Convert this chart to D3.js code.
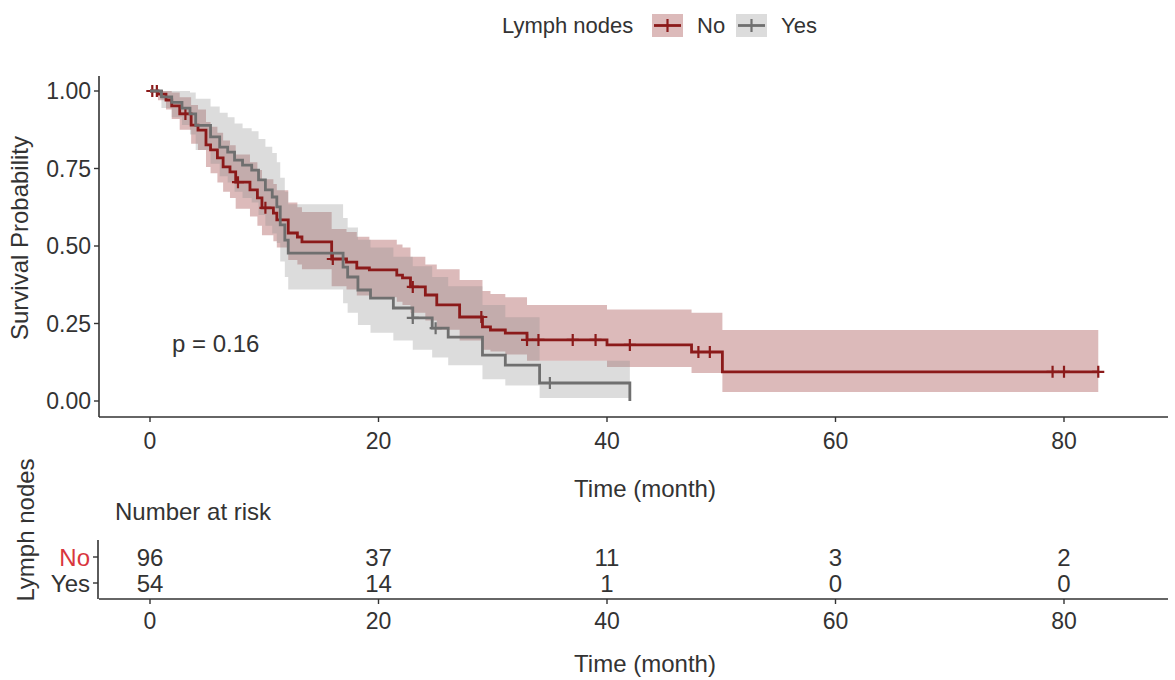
<!DOCTYPE html>
<html>
<head>
<meta charset="utf-8">
<script src="https://cdn.jsdelivr.net/npm/d3@7"></script>
<style>
  body { margin: 0; background: #fff; }
  text { font-family: "Liberation Sans", Arial, sans-serif; }
</style>
</head>
<body>
<svg id="chart" width="1175" height="680"></svg>
<script>
// ---- data ----
// Lymph nodes = No
let noTime  = [0, 0.7, 1.4, 1.9, 2.6, 3.6, 4.2, 4.9, 5.3, 5.9, 6.4, 7.0, 7.5, 8.75, 9.4, 9.8, 10.8, 11.1, 12.1, 12.9, 13.3, 15.9, 17.2, 18.1, 19.2, 21.6, 22.1, 22.8, 24.1, 25.1, 27.1, 29.1, 29.8, 31.1, 33.0, 40.0, 47.4, 50.1];
let noSurv  = [1, 0.99, 0.971, 0.952, 0.926, 0.89, 0.874, 0.826, 0.81, 0.784, 0.755, 0.739, 0.706, 0.681, 0.655, 0.623, 0.606, 0.584, 0.542, 0.529, 0.513, 0.458, 0.448, 0.429, 0.423, 0.406, 0.397, 0.368, 0.342, 0.31, 0.271, 0.239, 0.229, 0.219, 0.197, 0.181, 0.158, 0.094];
let noUpper = [1, 1, 1, 0.995, 0.98, 0.955, 0.94, 0.9, 0.885, 0.865, 0.84, 0.825, 0.795, 0.77, 0.745, 0.715, 0.7, 0.68, 0.64, 0.625, 0.61, 0.555, 0.545, 0.53, 0.52, 0.505, 0.495, 0.465, 0.44, 0.425, 0.39, 0.355, 0.345, 0.335, 0.31, 0.295, 0.285, 0.229];
let noLower = [1, 0.97, 0.94, 0.91, 0.875, 0.83, 0.81, 0.755, 0.735, 0.705, 0.675, 0.655, 0.62, 0.595, 0.565, 0.535, 0.515, 0.495, 0.455, 0.44, 0.425, 0.37, 0.36, 0.34, 0.335, 0.32, 0.31, 0.285, 0.26, 0.23, 0.195, 0.165, 0.16, 0.15, 0.13, 0.11, 0.09, 0.029];
let noCensor = [0.2, 0.6, 3.1, 7.7, 10.1, 16.0, 23.0, 29.0, 33.0, 34.0, 37.0, 39.0, 42.0, 48.0, 49.0, 79.0, 80.0, 83.0];
let noEnd = 83;

// Lymph nodes = Yes
let yesTime  = [0, 1.0, 1.9, 2.8, 3.5, 4.0, 5.3, 6.1, 6.8, 7.4, 8.1, 8.9, 9.5, 10.1, 10.7, 11.1, 11.4, 11.8, 12.1, 16.9, 17.3, 18.2, 19.3, 21.3, 23.0, 24.7, 26.1, 29.1, 31.1, 34.1, 42.0];
let yesSurv  = [1, 0.981, 0.963, 0.945, 0.926, 0.889, 0.852, 0.819, 0.803, 0.777, 0.761, 0.745, 0.713, 0.681, 0.658, 0.626, 0.568, 0.519, 0.477, 0.432, 0.4, 0.358, 0.332, 0.3, 0.268, 0.235, 0.206, 0.148, 0.116, 0.058, 0];
let yesUpper = [1, 1, 1, 1, 0.995, 0.975, 0.95, 0.93, 0.915, 0.895, 0.88, 0.87, 0.845, 0.82, 0.8, 0.77, 0.72, 0.675, 0.635, 0.59, 0.56, 0.52, 0.495, 0.465, 0.435, 0.4, 0.37, 0.31, 0.27, 0.13, 0];
let yesLower = [1, 0.945, 0.915, 0.89, 0.86, 0.81, 0.765, 0.725, 0.705, 0.675, 0.655, 0.64, 0.6, 0.565, 0.54, 0.51, 0.45, 0.4, 0.36, 0.315, 0.285, 0.245, 0.22, 0.195, 0.165, 0.14, 0.115, 0.07, 0.05, 0.01, 0];
let yesCensor = [23.0, 25.0, 35.0];
let yesEnd = 42;

let groups = ["No", "Yes"];
let riskTimes = [0, 20, 40, 60, 80];
let riskNo  = [96, 37, 11, 3, 2];
let riskYes = [54, 14, 1, 0, 0];
let xTicks = [0, 20, 40, 60, 80];
let yTicks = [0, 0.25, 0.5, 0.75, 1];
let pText = "p = 0.16";

// ---- drawing ----
let lineColor = { No: '#8b1a1a', Yes: '#6f6f6f' };
let fillColor = { No: '#8b1a1a', Yes: '#8a8a8a' };
let labelColor = { No: '#d9363e', Yes: '#333333' };
let ink = '#333333';
let tickSize = 23, titleSize = 24, legendSize = 22;

let svg = d3.select('#chart');
let x = d3.scaleLinear().domain([0, 80]).range([150, 1064]);
let y = d3.scaleLinear().domain([0, 1]).range([401, 91]);
let panelLeft = 99, panelRight = 1168, panelBottom = 417, panelTop = 76;

function build(time, surv, up, lo, endT) {
    let pts = time.map(function (t, i) { return { t: t, s: surv[i], u: up[i], l: lo[i] }; });
    let last = pts[pts.length - 1];
    if (endT > last.t) pts.push({ t: endT, s: last.s, u: last.u, l: last.l });
    return pts;
}
let curves = {
    No: build(noTime, noSurv, noUpper, noLower, noEnd),
    Yes: build(yesTime, yesSurv, yesUpper, yesLower, yesEnd)
};
let censors = { No: noCensor, Yes: yesCensor };

function survAt(pts, t) {
    let s = pts[0].s;
    pts.forEach(function (p) { if (p.t <= t) s = p.s; });
    return s;
}

let area = d3.area()
    .curve(d3.curveStepAfter)
    .x(function (d) { return x(d.t); })
    .y0(function (d) { return y(d.l); })
    .y1(function (d) { return y(d.u); });
let line = d3.line()
    .curve(d3.curveStepAfter)
    .x(function (d) { return x(d.t); })
    .y(function (d) { return y(d.s); });

let plot = svg.append('g');
groups.forEach(function (g) {
    plot.append('path')
        .attr('d', area(curves[g]))
        .attr('fill', fillColor[g])
        .attr('fill-opacity', 0.3);
});
groups.forEach(function (g) {
    plot.append('path')
        .attr('d', line(curves[g]))
        .attr('fill', 'none')
        .attr('stroke', lineColor[g])
        .attr('stroke-width', 2.8);
    censors[g].forEach(function (t) {
        let cx = x(t), cy = y(survAt(curves[g], t));
        plot.append('path')
            .attr('d', 'M' + (cx - 6) + ',' + cy + 'H' + (cx + 6) + 'M' + cx + ',' + (cy - 6) + 'V' + (cy + 6))
            .attr('stroke', lineColor[g])
            .attr('stroke-width', 2.2);
    });
});

// axes (main)
svg.append('line').attr('x1', panelLeft).attr('x2', panelRight).attr('y1', panelBottom).attr('y2', panelBottom)
    .attr('stroke', ink).attr('stroke-width', 1.6);
svg.append('line').attr('x1', panelLeft).attr('x2', panelLeft).attr('y1', panelTop).attr('y2', panelBottom)
    .attr('stroke', ink).attr('stroke-width', 1.6);
yTicks.forEach(function (v) {
    svg.append('line').attr('x1', panelLeft - 5).attr('x2', panelLeft).attr('y1', y(v)).attr('y2', y(v))
        .attr('stroke', ink).attr('stroke-width', 1.4);
    svg.append('text').attr('x', panelLeft - 8).attr('y', y(v)).attr('dy', '0.36em')
        .attr('text-anchor', 'end').attr('font-size', tickSize).attr('fill', ink)
        .text(d3.format('.2f')(v));
});
xTicks.forEach(function (v) {
    svg.append('line').attr('x1', x(v)).attr('x2', x(v)).attr('y1', panelBottom).attr('y2', panelBottom + 5)
        .attr('stroke', ink).attr('stroke-width', 1.4);
    svg.append('text').attr('x', x(v)).attr('y', 449)
        .attr('text-anchor', 'middle').attr('font-size', tickSize).attr('fill', ink).text(v);
});
svg.append('text').attr('transform', 'translate(28,238) rotate(-90)')
    .attr('text-anchor', 'middle').attr('font-size', titleSize).attr('fill', ink).text('Survival Probability');
svg.append('text').attr('x', 645).attr('y', 497)
    .attr('text-anchor', 'middle').attr('font-size', titleSize).attr('fill', ink).text('Time (month)');
svg.append('text').attr('x', 172).attr('y', 352)
    .attr('font-size', titleSize).attr('fill', ink).text(pText);

// legend
let legend = svg.append('g');
legend.append('text').attr('x', 502).attr('y', 33).attr('font-size', legendSize).attr('fill', ink).text('Lymph nodes');
let keyX = { No: 652, Yes: 736 };
groups.forEach(function (g) {
    let kx = keyX[g], ky = 14;
    legend.append('rect').attr('x', kx).attr('y', ky).attr('width', 31).attr('height', 23)
        .attr('fill', fillColor[g]).attr('fill-opacity', 0.3);
    legend.append('line').attr('x1', kx + 2).attr('x2', kx + 29).attr('y1', ky + 11.5).attr('y2', ky + 11.5)
        .attr('stroke', lineColor[g]).attr('stroke-width', 2.8);
    legend.append('line').attr('x1', kx + 15.5).attr('x2', kx + 15.5).attr('y1', ky + 5).attr('y2', ky + 18)
        .attr('stroke', lineColor[g]).attr('stroke-width', 2.2);
    legend.append('text').attr('x', kx + 45).attr('y', 33).attr('font-size', legendSize).attr('fill', ink).text(g);
});

// risk table
let rowY = d3.scalePoint().domain(groups).range([557, 583]);
let rBottom = 599, rTop = 540;
svg.append('text').attr('x', 115).attr('y', 520).attr('font-size', titleSize).attr('fill', ink).text('Number at risk');
svg.append('text').attr('transform', 'translate(34,530) rotate(-90)')
    .attr('text-anchor', 'middle').attr('font-size', titleSize).attr('fill', ink).text('Lymph nodes');
svg.append('line').attr('x1', panelLeft).attr('x2', panelRight).attr('y1', rBottom).attr('y2', rBottom)
    .attr('stroke', ink).attr('stroke-width', 1.6);
svg.append('line').attr('x1', panelLeft - 1).attr('x2', panelLeft - 1).attr('y1', rTop).attr('y2', rBottom)
    .attr('stroke', ink).attr('stroke-width', 1.6);
let riskVals = { No: riskNo, Yes: riskYes };
groups.forEach(function (g) {
    svg.append('line').attr('x1', panelLeft - 6).attr('x2', panelLeft - 1).attr('y1', rowY(g)).attr('y2', rowY(g))
        .attr('stroke', ink).attr('stroke-width', 1.4);
    svg.append('text').attr('x', panelLeft - 9).attr('y', rowY(g)).attr('dy', '0.36em')
        .attr('text-anchor', 'end').attr('font-size', titleSize).attr('fill', labelColor[g]).text(g);
    riskTimes.forEach(function (t, i) {
        svg.append('text').attr('x', x(t)).attr('y', rowY(g)).attr('dy', '0.36em')
            .attr('text-anchor', 'middle').attr('font-size', titleSize).attr('fill', ink).text(riskVals[g][i]);
    });
});
xTicks.forEach(function (v) {
    svg.append('line').attr('x1', x(v)).attr('x2', x(v)).attr('y1', rBottom).attr('y2', rBottom + 5)
        .attr('stroke', ink).attr('stroke-width', 1.4);
    svg.append('text').attr('x', x(v)).attr('y', 629)
        .attr('text-anchor', 'middle').attr('font-size', tickSize).attr('fill', ink).text(v);
});
svg.append('text').attr('x', 645).attr('y', 672)
    .attr('text-anchor', 'middle').attr('font-size', titleSize).attr('fill', ink).text('Time (month)');
</script>
</body>
</html>
